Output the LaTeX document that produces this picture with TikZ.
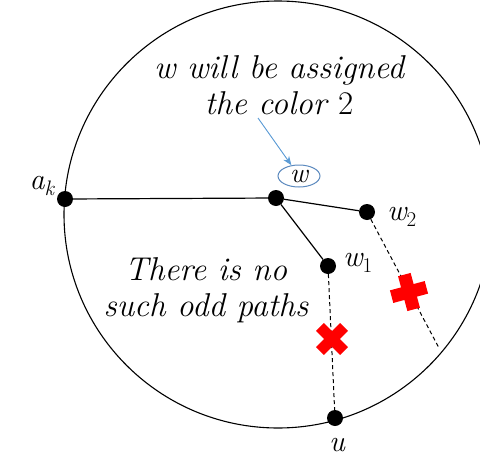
\documentclass[tikz,border=0pt]{standalone}
\usetikzlibrary{arrows.meta,shapes.geometric}
\begin{document}
\begin{tikzpicture}[x=1pt,y=-1pt,
  dot/.style={circle,fill=black,inner sep=0pt,minimum size=16pt},
  lbl/.style={font=\fontsize{30}{34}\selectfont\itshape},
  txt/.style={font=\fontsize{33}{36}\selectfont\itshape,align=center},
  edge/.style={line width=1.2pt},
  dashedge/.style={line width=1pt,dashed,dash pattern=on 4pt off 3pt},
  cross/.style={fill=red,draw=none}]
\useasboundingbox (0,0) rectangle (480,461);
\begin{scope}
\clip (0,0) rectangle (480,461);
\draw[line width=1.1pt] (278,214.5) ellipse [x radius=214, y radius=213.5];
\end{scope}
\node[dot] (ak) at (65,199) {};
\node[dot] (c) at (276,198) {};
\node[dot] (w2) at (367,212) {};
\node[dot] (w1) at (328,266) {};
\node[dot] (u) at (335,418) {};
\coordinate (e2) at (439,348);
\draw[edge] (ak) -- (c);
\draw[edge] (c) -- (w2);
\draw[edge] (c) -- (w1);
\draw[dashedge] (w1) -- (u);
\draw[dashedge] (w2) -- (e2);
\node[lbl] (lak) at (42,186) {a\textsubscript{k}};
\node[lbl] (lw1) at (358,263) {w\textsubscript{\upshape 1}};
\node[lbl] (lw2) at (402,217) {w\textsubscript{\upshape 2}};
\node[lbl] (lu) at (337,445) {u};
\node[draw={rgb,255:red,91;green,137;blue,190},line width=1pt,ellipse,minimum width=42pt,minimum height=22pt,inner sep=0pt,font=\fontsize{28}{30}\selectfont\itshape] (w) at (299,176) {w};
\node[txt] (t1) at (279,85) {w will be assigned\\the color {\upshape 2}};
\node[txt] (t2) at (206,290) {There is no\\such odd paths};
\coordinate (as) at (258,118);
\draw[-{Stealth[length=9pt,width=7pt]},line width=0.9pt,draw={rgb,255:red,91;green,155;blue,213},fill={rgb,255:red,91;green,155;blue,213}] (as) -- (w);
% X cross
\begin{scope}[shift={(332,339)},rotate=45]
\fill[cross] (-17,-5.5) rectangle (17,5.5);
\fill[cross] (-5.5,-17) rectangle (5.5,17);
\end{scope}
% plus cross
\begin{scope}[shift={(409,292)},rotate=15]
\fill[cross] (-18,-6.5) rectangle (18,6.5);
\fill[cross] (-6.5,-18) rectangle (6.5,18);
\end{scope}
\end{tikzpicture}
\end{document}
